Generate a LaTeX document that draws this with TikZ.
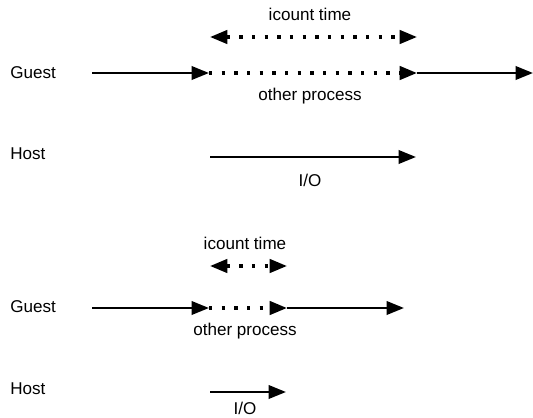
\documentclass[tikz,border=0pt]{standalone}
\usepackage{fontspec}
\setmainfont{Liberation Sans}
\usetikzlibrary{arrows.meta}
\begin{document}
\begin{tikzpicture}[x=0.75pt,y=-0.75pt,
  lbl/.style={font=\fontsize{12.8pt}{14pt}\selectfont,inner sep=0pt},
  solidarrow/.style={line width=1.9pt,-{Triangle[length=13pt,width=10pt]}},
  dotarrow/.style={line width=2.5pt,dash pattern=on 2.5pt off 7pt,-{Triangle[length=13pt,width=10pt]}},
  dotboth/.style={line width=2.5pt,dash pattern=on 2.5pt off 7pt,{Triangle[length=13pt,width=10pt]}-{Triangle[length=13pt,width=10pt]}}]
\useasboundingbox (0,0) rectangle (533,418);
% top section
\node[lbl] (it1) at (310,14) {icount time};
\coordinate (t1a) at (210,37);
\coordinate (t1b) at (417,37);
\draw[dotboth] (t1a) -- (t1b);
\node[lbl,anchor=west] (g1) at (10,73) {Guest};
\coordinate (g1a) at (92,73);
\coordinate (g1b) at (209,73);
\coordinate (g1c) at (417,73);
\coordinate (g1d) at (533,73);
\draw[solidarrow] (g1a) -- (g1b);
\draw[dotarrow] (g1b) -- (g1c);
\draw[solidarrow] (g1c) -- (g1d);
\node[lbl] (op1) at (310,96) {other process};
\node[lbl,anchor=west] (h1) at (10,154) {Host};
\coordinate (h1a) at (210,157);
\coordinate (h1b) at (416,157);
\draw[solidarrow] (h1a) -- (h1b);
\node[lbl] (io1) at (310,180) {I/O};
% bottom section
\node[lbl] (it2) at (245,243) {icount time};
\coordinate (t2a) at (210,266);
\coordinate (t2b) at (287,266);
\draw[dotboth] (t2a) -- (t2b);
\node[lbl,anchor=west] (g2) at (10,307) {Guest};
\coordinate (g2a) at (92,308);
\coordinate (g2b) at (209,308);
\coordinate (g2c) at (287,308);
\coordinate (g2d) at (404,308);
\draw[solidarrow] (g2a) -- (g2b);
\draw[dotarrow] (g2b) -- (g2c);
\draw[solidarrow] (g2c) -- (g2d);
\node[lbl] (op2) at (245,331) {other process};
\node[lbl,anchor=west] (h2) at (10,389) {Host};
\coordinate (h2a) at (210,392);
\coordinate (h2b) at (286,392);
\draw[solidarrow] (h2a) -- (h2b);
\node[lbl] (io2) at (245,408) {I/O};
\end{tikzpicture}
\end{document}
